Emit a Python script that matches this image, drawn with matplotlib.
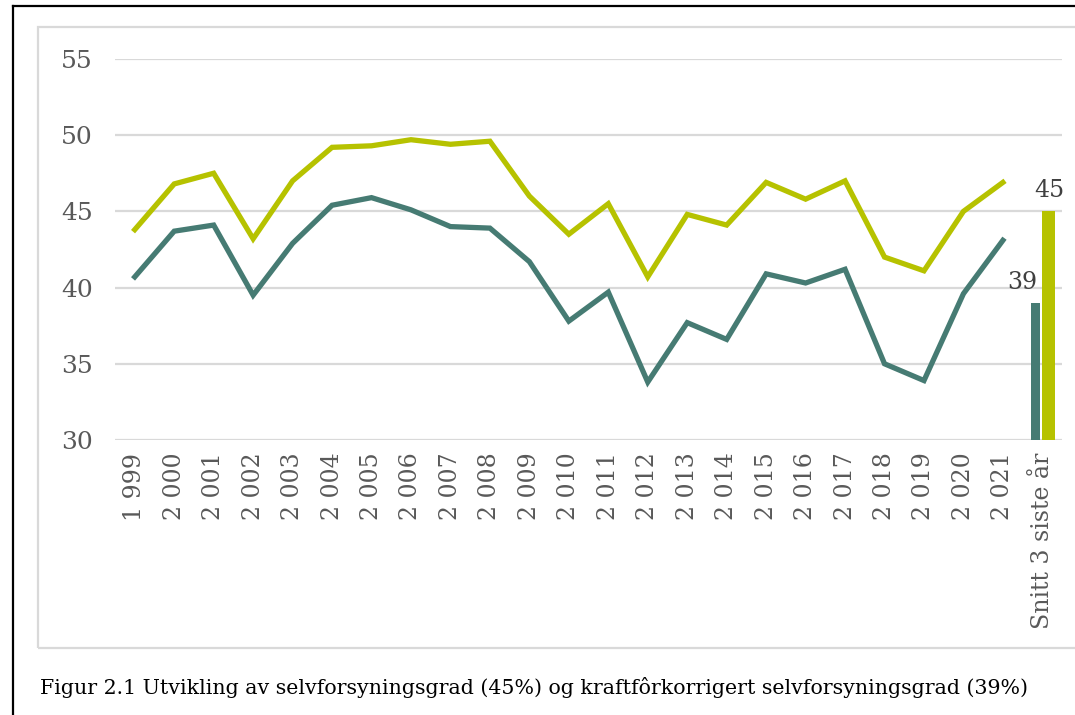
import matplotlib.pyplot as plt
from matplotlib.lines import Line2D
from matplotlib.patches import Rectangle
import numpy as np

# data
years = ["1 999", "2 000", "2 001", "2 002", "2 003", "2 004", "2 005", "2 006",
         "2 007", "2 008", "2 009", "2 010", "2 011", "2 012", "2 013", "2 014",
         "2 015", "2 016", "2 017", "2 018", "2 019", "2 020", "2 021"]
avg_label = "Snitt 3 siste år"
selvforsyning = [43.8, 46.8, 47.5, 43.2, 47.0, 49.2, 49.3, 49.7, 49.4, 49.6,
                 46.0, 43.5, 45.5, 40.7, 44.8, 44.1, 46.9, 45.8, 47.0, 42.0,
                 41.1, 45.0, 46.9]
kraftfor_korr = [40.7, 43.7, 44.1, 39.5, 42.9, 45.4, 45.9, 45.1, 44.0, 43.9,
                 41.7, 37.8, 39.7, 33.8, 37.7, 36.6, 40.9, 40.3, 41.2, 35.0,
                 33.9, 39.6, 43.1]
avg_selv = 45
avg_korr = 39
caption = "Figur 2.1 Utvikling av selvforsyningsgrad (45%) og kraftfôrkorrigert selvforsyningsgrad (39%)"

YELLOW = "#b6c200"
TEAL = "#467b73"
GRID = "#d9d9d9"
TXT = "#595959"
SERIF = ["DejaVu Serif"]

fig = plt.figure(figsize=(10.75, 7.15), dpi=100)
ax = fig.add_axes([0.107, 0.3846, 0.881, 0.533])

x = np.arange(len(years))
ax.plot(x, selvforsyning, color=YELLOW, lw=3.8, solid_joinstyle="miter", zorder=3)
ax.plot(x, kraftfor_korr, color=TEAL, lw=3.8, solid_joinstyle="miter", zorder=3)

# average bars for the last category
xb = len(years)
ax.bar(xb - 0.17, avg_korr - 30, bottom=30, width=0.23, color=TEAL, zorder=3)
ax.bar(xb + 0.15, avg_selv - 30, bottom=30, width=0.33, color=YELLOW, zorder=3)
ax.text(xb - 0.5, avg_korr + 0.6, str(avg_korr), ha="center", va="bottom",
        fontsize=17, color="#404040", family=SERIF)
ax.text(xb + 0.18, avg_selv + 0.6, str(avg_selv), ha="center", va="bottom",
        fontsize=17, color="#404040", family=SERIF)

ax.set_xlim(-0.5, len(years) + 0.5)
ax.set_ylim(30, 55)
ax.set_yticks(range(30, 56, 5))
ax.set_xticks(list(x) + [xb])
ax.set_xticklabels(years + [avg_label], rotation=90, family=SERIF,
                   fontsize=17, color=TXT)
for lab in ax.get_yticklabels():
    lab.set_family(SERIF)
    lab.set_fontsize(18)
    lab.set_color(TXT)
ax.tick_params(axis="both", length=0)
ax.tick_params(axis="y", pad=16)
ax.tick_params(axis="x", pad=9)
ax.grid(axis="y", color=GRID, lw=1.6, zorder=0)
for s in ax.spines.values():
    s.set_visible(False)

# light chart frame and outer black border
fig.patches.append(Rectangle((38 / 1075, 1 - 648 / 715), 1.1, (648 - 27) / 715,
                             transform=fig.transFigure, fill=False,
                             ec=GRID, lw=1.6))
fig.lines.append(Line2D([13 / 1075, 13 / 1075], [0, 1 - 6 / 715],
                        transform=fig.transFigure, color="black", lw=1.6))
fig.lines.append(Line2D([13 / 1075, 1.0], [1 - 6 / 715, 1 - 6 / 715],
                        transform=fig.transFigure, color="black", lw=1.6))

fig.text(40 / 1075, 1 - 688 / 715, caption, ha="left", va="center",
         fontsize=14.8, family=SERIF, color="black")

fig.savefig("out.png", dpi=100)
